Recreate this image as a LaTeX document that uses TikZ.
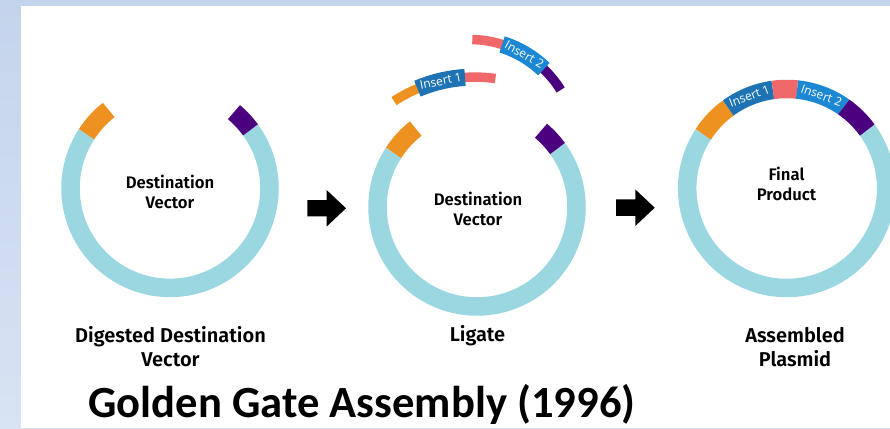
\documentclass[tikz,border=0pt]{standalone}
\usepackage{fontspec}
\newfontfamily\labelfont{Fira Sans SemiBold}
\newfontfamily\titlefont{Carlito}
\newfontfamily\insfont{Open Sans}

\definecolor{ringblue}{RGB}{154,215,225}
\definecolor{stickyorange}{RGB}{237,145,33}
\definecolor{stickypurple}{RGB}{75,0,128}
\definecolor{insertone}{RGB}{30,115,180}
\definecolor{inserttwo}{RGB}{28,135,210}
\definecolor{insertpink}{RGB}{240,104,106}
\definecolor{stripblue}{RGB}{196,212,236}
\definecolor{stripbluelight}{RGB}{216,227,243}

% ring segment: centre, radius, width, start angle, end angle, colour
\newcommand\ringseg[6]{%
  \draw[line width=#3pt, #6] (#1) ++(#4:#2) arc[start angle=#4, end angle=#5, radius=#2];}

% block arrow whose tail middle sits at the given coordinate
\newcommand\blockarrow[1]{%
  \fill[black] (#1) ++(0,-8.2) -- ++(19.4,0) -- ++(0,-10) -- ++(19.3,18.2)
    -- ++(-19.3,18.2) -- ++(0,-10) -- ++(-19.4,0) -- cycle;}

\tikzset{
  caption/.style={font=\labelfont\fontsize{20}{24}\selectfont, align=center, inner sep=0pt},
  inlabel/.style={font=\labelfont\fontsize{16.7}{20}\selectfont, align=center, inner sep=0pt},
  instext/.style={font=\insfont\fontsize{12}{14}\selectfont, text=white, inner sep=0pt},
}

\begin{document}
\begin{tikzpicture}[x=1pt, y=1pt]
\useasboundingbox (0,0) rectangle (890,428);
% slide frame
\shade[top color=stripblue, bottom color=stripbluelight] (0,0) rectangle (890,428);
\fill[white] (21,0) rectangle (890,422);

% centres of the three plasmids and of the two free fragments
\coordinate (cA) at (170,239.6);
\coordinate (cB) at (477,221);
\coordinate (cC) at (786.7,239.5);
\coordinate (fA) at (474.8,202.9);
\coordinate (fB) at (470,281.8);

% digested destination vector
\ringseg{cA}{99.5}{18.5}{147}{396}{ringblue}
\ringseg{cA}{99.5}{18.5}{128}{147}{stickyorange}
\ringseg{cA}{99.5}{18.5}{36}{50}{stickypurple}
\node[inlabel, anchor=base] (lA) at (170,219) {Destination\\Vector};

% ligation: vector plus the two inserts
\ringseg{cB}{99.5}{18.5}{147}{396}{ringblue}
\ringseg{cB}{99.5}{18.5}{128}{147}{stickyorange}
\ringseg{cB}{99.5}{18.5}{36}{50}{stickypurple}
\node[inlabel, anchor=base] (lB) at (478,202) {Destination\\Vector};

\ringseg{fA}{148}{9.5}{123.1}{112}{stickyorange}
\ringseg{fA}{148}{9.5}{94.5}{82}{insertpink}
\ringseg{fA}{148}{17}{112.8}{93.8}{insertone}
\node[instext, rotate=11] (iA) at ([shift={(103.3:148)}]fA) {Insert 1};

\ringseg{fB}{106.7}{9.5}{88.75}{72}{insertpink}
\ringseg{fB}{106.7}{9.5}{47}{31.8}{stickypurple}
\ringseg{fB}{106.7}{17}{72.5}{46.2}{inserttwo}
\node[instext, rotate=-29] (iB) at ([shift={(59.35:106.7)}]fB) {Insert 2};

% assembled plasmid
\ringseg{cC}{99.5}{18.5}{147}{396}{ringblue}
\ringseg{cC}{99.5}{18.5}{126}{147}{stickyorange}
\ringseg{cC}{99.5}{18.5}{98}{126}{insertone}
\ringseg{cC}{99.5}{18.5}{84}{98}{insertpink}
\ringseg{cC}{99.5}{18.5}{55}{84}{inserttwo}
\ringseg{cC}{99.5}{18.5}{36}{55}{stickypurple}
\node[instext, rotate=21] (iC) at ([shift={(112:99.5)}]cC) {Insert 1};
\node[instext, rotate=-20] (iD) at ([shift={(69.5:99.5)}]cC) {Insert 2};
\node[inlabel, anchor=base] (lC) at (786.5,227) {Final\\Product};

% process arrows
\coordinate (arrA) at (307.3,219.7);
\coordinate (arrB) at (616,220.3);
\blockarrow{arrA}
\blockarrow{arrB}

% captions
\node[caption, anchor=base] (capA) at (170.5,62) {Digested Destination\\Vector};
\node[caption, anchor=base] (capB) at (477.5,86) {Ligate};
\node[caption, anchor=base] (capC) at (795,62) {Assembled\\Plasmid};

\node[font=\titlefont\bfseries\fontsize{44.6}{50}\selectfont, anchor=base, inner sep=0pt]
  (title) at (362,11) {Golden Gate Assembly (1996)};
\end{tikzpicture}
\end{document}
